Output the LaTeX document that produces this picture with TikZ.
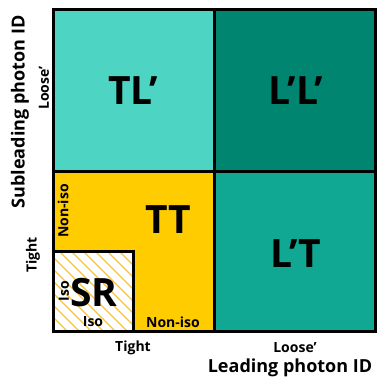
\documentclass[tikz,border=0pt]{standalone}
\usepackage{fontspec}
\setmainfont{Open Sans}[BoldFont={Open Sans Bold}]
\begin{document}
\begin{tikzpicture}[x=1pt,y=-1pt,
  cell/.style={draw=black,line width=3pt},
  big/.style={font=\bfseries\fontsize{39}{39}\selectfont,inner sep=0pt},
  small/.style={font=\bfseries\fontsize{14}{15}\selectfont,inner sep=0pt},
  axis/.style={font=\bfseries\fontsize{18}{19}\selectfont,inner sep=0pt}]
\definecolor{tlc}{HTML}{4DD4C2}
\definecolor{llc}{HTML}{008571}
\definecolor{ltc}{HTML}{10A892}
\definecolor{ttc}{HTML}{FFCC00}
\definecolor{hatchc}{HTML}{F5C242}
\useasboundingbox[fill=white] (0,0) rectangle (377,378);
% cells
\fill[tlc] (53,9) rectangle (214,171);
\fill[llc] (214,9) rectangle (375,171);
\fill[ttc] (53,171) rectangle (214,331);
\fill[ltc] (214,171) rectangle (375,331);
\fill[white] (53,251) rectangle (133,331);
\begin{scope}
\clip (53,251) rectangle (133,331);
\foreach \o in {-90,-78,...,90}{
  \draw[hatchc,line width=1.4pt] (53+\o,251) -- (53+\o+90,341);
}
\end{scope}
\draw[cell] (53,9) rectangle (375,331);
\draw[cell] (214,9) -- (214,331);
\draw[cell] (53,171) -- (375,171);
\draw[cell] (53,251) -- (133,251) -- (133,331);
% labels
\node[big] (tl) at (133,91) {TL’};
\node[big] (ll) at (296,91) {L’L’};
\node[big] (tt) at (168,220) {TT};
\node[big] (lt) at (296,254) {L’T};
\node[big] (sr) at (94,293) {SR};
\node[small,rotate=90] (ni1) at (63,211) {Non-iso};
\node[small,rotate=90] (iso1) at (64,291) {Iso};
\node[small] (iso2) at (93,322) {Iso};
\node[small] (ni2) at (173,322) {Non-iso};
\node[small] (xt) at (133,348) {Tight};
\node[small] (xl) at (295,348) {Loose’};
\node[axis] (xa) at (290,368) {Leading photon ID};
\node[small,rotate=90] (yt) at (33,255) {Tight};
\node[small,rotate=90] (yl) at (44,88) {Loose’};
\node[axis,rotate=90] (ya) at (20,112) {Subleading photon ID};
\end{tikzpicture}
\end{document}
